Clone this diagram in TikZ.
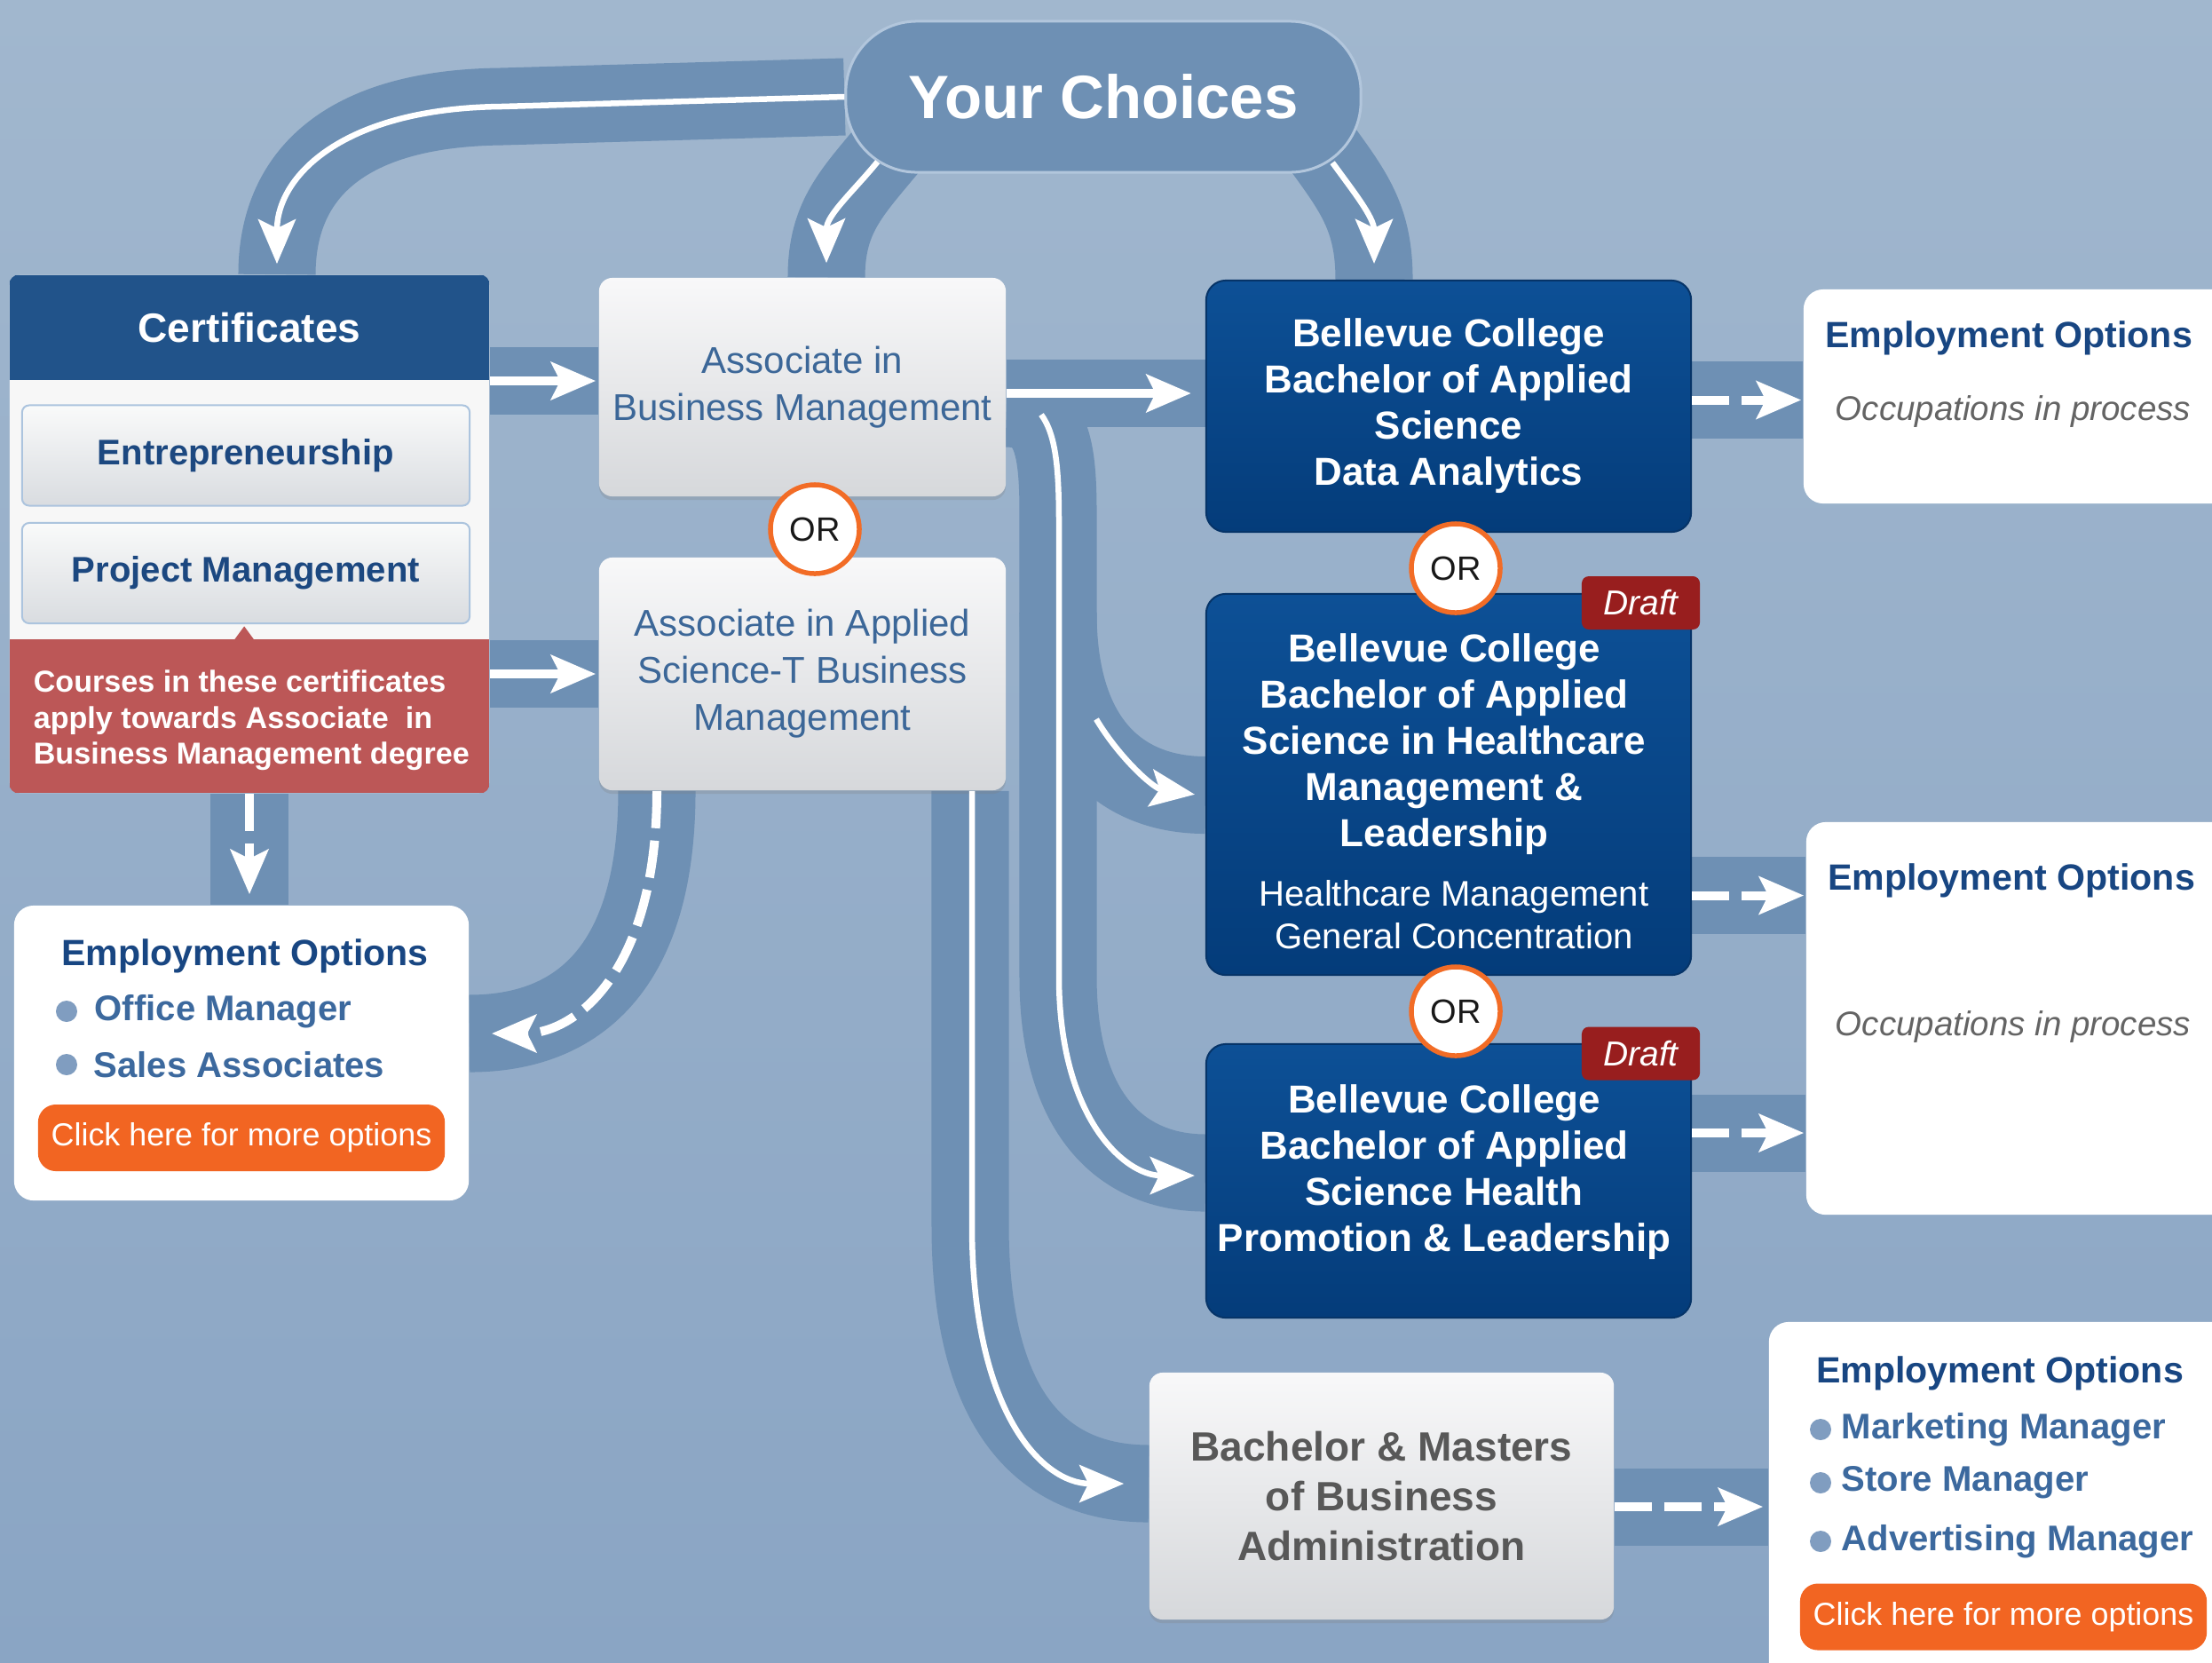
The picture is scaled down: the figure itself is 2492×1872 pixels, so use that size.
\documentclass[tikz,border=0pt]{standalone}
\usepackage{fontspec}
\setmainfont{Liberation Sans}
\usetikzlibrary{arrows.meta,calc,shadows}
\pgfdeclarelayer{back}
\pgfdeclarelayer{roads}
\pgfsetlayers{back,roads,main}
\definecolor{bgtop}{RGB}{161,183,206}
\definecolor{bgbot}{RGB}{138,165,196}
\definecolor{roadc}{RGB}{110,144,180}
\definecolor{pillborder}{RGB}{178,198,220}
\definecolor{headc}{RGB}{33,83,138}
\definecolor{redc}{RGB}{188,87,87}
\definecolor{panelc}{RGB}{247,247,247}
\definecolor{btnline}{RGB}{172,196,222}
\definecolor{btntop}{RGB}{249,250,250}
\definecolor{btnbot}{RGB}{217,220,224}
\definecolor{navytxt}{RGB}{28,72,128}
\definecolor{steel}{RGB}{60,103,152}
\definecolor{bctop}{RGB}{13,80,150}
\definecolor{bcbot}{RGB}{4,60,122}
\definecolor{bcline}{RGB}{6,52,104}
\definecolor{draftc}{RGB}{152,30,30}
\definecolor{orline}{RGB}{242,108,38}
\definecolor{ortxt}{RGB}{25,25,25}
\definecolor{empblue}{RGB}{24,70,130}
\definecolor{itemblue}{RGB}{60,105,158}
\definecolor{occgray}{RGB}{100,100,100}
\definecolor{orangec}{RGB}{242,101,34}
\definecolor{bmgray}{RGB}{88,88,88}
\definecolor{bullc}{RGB}{128,157,192}
\definecolor{greytop}{RGB}{248,248,249}
\definecolor{greybot}{RGB}{214,216,219}
\tikzset{
 road/.style={draw=roadc,line width=0.87cm,line cap=butt},
 roadn/.style={draw=roadc,line width=0.76cm,line cap=butt},
 whiteline/.style={draw=white,line width=0.065cm,-{Stealth[length=0.5cm,width=0.42cm,inset=0.1cm]}},
 whitethick/.style={draw=white,line width=0.1cm,-{Stealth[length=0.5cm,width=0.42cm,inset=0.1cm]}},
 whitedash/.style={whitethick,dash pattern=on 0.42cm off 0.14cm},
 pill/.style={fill=roadc,draw=pillborder,line width=0.03cm,rounded corners=0.8cm,minimum width=5.8cm,minimum height=1.7cm,inner sep=0pt,text=white,font=\bfseries\fontsize{19.6pt}{23pt}\selectfont},
 panel/.style={fill=panelc,minimum width=5.4cm,minimum height=5.83cm,rounded corners=0.12cm,inner sep=0pt},
 certhead/.style={fill=headc,minimum width=5.4cm,minimum height=1.18cm,inner sep=0pt,text=white,font=\bfseries\fontsize{13.1pt}{15pt}\selectfont},
 notebox/.style={fill=redc,minimum width=5.4cm,minimum height=1.73cm,inner sep=0pt},
 notetxt/.style={text=white,align=left,anchor=west,inner sep=0pt,font=\bfseries\fontsize{9.7pt}{11.5pt}\selectfont},
 btnbox/.style={top color=btntop,bottom color=btnbot,draw=btnline,line width=0.02cm,rounded corners=0.08cm,minimum width=5.04cm,minimum height=1.13cm,inner sep=0pt,text=navytxt,font=\bfseries\fontsize{11.4pt}{13pt}\selectfont},
 greybox/.style={rounded corners=0.15cm,top color=greytop,bottom color=greybot,inner sep=0pt,text=steel,align=center,font=\fontsize{11.95pt}{15.1pt}\selectfont,drop shadow={shadow xshift=0cm,shadow yshift=-0.04cm,opacity=0.25}},
 bcbox/.style={rounded corners=0.22cm,top color=bctop,bottom color=bcbot,draw=bcline,line width=0.02cm,minimum width=5.46cm,inner sep=0pt,text=white,align=center,font=\bfseries\fontsize{12.5pt}{14.8pt}\selectfont},
 bctext/.style={text=white,align=center,inner sep=0pt,font=\bfseries\fontsize{12.5pt}{14.8pt}\selectfont},
 bcsub/.style={text=white,align=center,inner sep=0pt,font=\fontsize{11.4pt}{13.7pt}\selectfont},
 orc/.style={circle,fill=white,draw=orline,line width=0.055cm,minimum size=1.0cm,inner sep=0pt,text=ortxt,font=\fontsize{10.8pt}{12pt}\selectfont},
 draft/.style={fill=draftc,rounded corners=0.08cm,minimum width=1.33cm,minimum height=0.6cm,inner sep=0pt,text=white,font=\itshape\fontsize{11.1pt}{13pt}\selectfont},
 empbox/.style={fill=white,rounded corners=0.22cm,inner sep=0pt},
 emptitle/.style={text=empblue,inner sep=0pt,font=\bfseries\fontsize{11.7pt}{14pt}\selectfont},
 occ/.style={text=occgray,inner sep=0pt,font=\itshape\fontsize{10.95pt}{13pt}\selectfont},
 itemtxt/.style={text=itemblue,inner sep=0pt,anchor=west,font=\bfseries\fontsize{11.4pt}{13pt}\selectfont},
 obtn/.style={fill=orangec,rounded corners=0.2cm,minimum width=4.58cm,minimum height=0.75cm,inner sep=0pt,text=white,font=\fontsize{10.2pt}{12pt}\selectfont},
 bmbox/.style={greybox,text=bmgray,font=\bfseries\fontsize{13.1pt}{15.9pt}\selectfont}
}
\begin{document}
\begin{tikzpicture}[x=0.01cm,y=-0.01cm]
\useasboundingbox (0,0) rectangle (2492,1872);
\begin{pgfonlayer}{back}
\shade[top color=bgtop,bottom color=bgbot] (0,0) rectangle (2492,1872);
\end{pgfonlayer}
\clip (0,0) rectangle (2492,1872);

% ---------- nodes ----------
\node[pill] (yc) at (1243,109) {Your Choices};

\node[panel] (cert) at (281,601.5) {};
\begin{scope}
\clip[rounded corners=0.12cm] (cert.north west) rectangle (cert.south east);
\node[certhead,anchor=north] (certh) at (cert.north) {Certificates};
\node[notebox,anchor=south] (note) at (cert.south) {};
\fill[redc] ($(note.north west)+(254,1)$) -- ++(11,-15) -- ++(11,15) -- cycle;
\end{scope}
\node[notetxt] (notet) at ($(note.west)+(27,5)$) {Courses in these certificates\\apply towards Associate~ in\\Business Management degree};
\node[btnbox] (ent) at (277,513) {Entrepreneurship};
\node[btnbox] (pm) at (277,645.5) {Project Management};

\node[greybox,minimum width=4.58cm,minimum height=2.46cm] (abm) at (904,436) {Associate in\\Business Management};
\node[greybox,minimum width=4.58cm,minimum height=2.62cm] (asbm) at (904,759) {Associate in Applied\\Science-T Business\\Management};
\node[orc] (or1) at (918,596) {OR};

\node[bcbox,minimum height=2.83cm] (da) at (1632,457.5) {Bellevue College\\Bachelor of Applied\\Science\\Data Analytics};
\node[bcbox,minimum height=4.29cm] (hc) at (1632,883.5) {};
\node[bctext] (hct) at (1627,838) {Bellevue College\\Bachelor of Applied\\Science in Healthcare\\Management \&\\Leadership};
\node[bcsub] (hcs) at (1638,1030) {Healthcare Management\\General Concentration};
\node[bcbox,minimum height=3.08cm] (hp) at (1632,1330) {};
\node[bctext] (hpt) at (1627,1320) {Bellevue College\\Bachelor of Applied\\Science Health\\Promotion \& Leadership};
\node[orc] (or2) at (1640,640) {OR};
\node[orc] (or3) at (1640,1139) {OR};
\node[draft] (dr1) at (1848.5,679) {Draft};
\node[draft] (dr2) at (1848.5,1186.5) {Draft};

\node[bmbox,minimum width=5.23cm,minimum height=2.78cm] (bm) at (1556.5,1685) {Bachelor \& Masters\\of Business\\Administration};

\node[empbox,minimum width=5.08cm,minimum height=2.41cm] (emp1) at (2286,446.5) {};
\node[emptitle] (emp1t) at (2263,381) {Employment Options};
\node[occ] (emp1o) at (2268,464) {Occupations in process};

\node[empbox,minimum width=5.05cm,minimum height=4.42cm] (emp2) at (2287.5,1147) {};
\node[emptitle] (emp2t) at (2266,992) {Employment Options};
\node[occ] (emp2o) at (2268,1157) {Occupations in process};

\node[empbox,minimum width=5.47cm,minimum height=4.31cm] (emp3) at (2266.5,1704.5) {};
\node[emptitle] (emp3t) at (2253,1547) {Employment Options};
\fill[bullc] (2051,1610) circle (12);
\fill[bullc] (2051,1670) circle (12);
\fill[bullc] (2051,1736) circle (12);
\node[itemtxt] (e3a) at (2074,1610) {Marketing Manager};
\node[itemtxt] (e3b) at (2074,1670) {Store Manager};
\node[itemtxt] (e3c) at (2074,1736) {Advertising Manager};
\node[obtn] (btn3) at (2257,1821) {Click here for more options};

\node[empbox,minimum width=5.12cm,minimum height=3.32cm] (empL) at (272,1186) {};
\node[emptitle] (empLt) at (276,1077) {Employment Options};
\fill[bullc] (75,1139) circle (12);
\fill[bullc] (75,1199) circle (12);
\node[itemtxt] (eLa) at (106,1139) {Office Manager};
\node[itemtxt] (eLb) at (105,1199) {Sales Associates};
\node[obtn] (btnL) at (272,1281.5) {Click here for more options};

% ---------- helper coordinates ----------
\coordinate (c4e) at ($(abm.west)+(0,-7)$);
\coordinate (c8s) at ($(abm.east)+(0,7)$);
\coordinate (c9s) at ($(abm.east)+(0,24)$);
\coordinate (c12s) at ($(da.east)+(0,-7)$);
\coordinate (c13s) at ($(hc.east)+(0,125)$);
\coordinate (c14s) at ($(hp.east)+(0,-54)$);
\coordinate (c15s) at ($(bm.east)+(0,12)$);
\coordinate (c9w) at (1173,467);
\coordinate (c10w) at (1235,810);

% ---------- roads ----------
\begin{pgfonlayer}{roads}
\draw[road] (yc.west) -- (565,120) .. controls (385,122) and ($(cert.north)+(31,-110)$) .. ($(cert.north)+(31,0)$);
\draw[road] ($(yc.south west)+(55,-35)$) .. controls +(-45,55) and +(0,-70) .. ($(abm.north)+(27,0)$);
\draw[road] ($(yc.south east)+(-50,-35)$) .. controls +(40,55) and +(0,-70) .. ($(da.north)+(-84,0)$);
\draw[roadn] (cert.east |- c4e) -- (c4e);
\draw[roadn] (cert.east |- asbm.west) -- (asbm.west);
\draw[road] (cert.south) -- (cert.south |- empL.north);
\draw[road] ($(asbm.south)+(-164,0)$) .. controls +(0,200) and +(122,0) .. ($(empL.east)+(0,-22)$);
\draw[roadn] (c8s) -- (c8s -| da.west);
\draw[road] (c9s) .. controls +(52,0) and +(0,-75) .. (1192,580) -- (1192,1100) .. controls +(0,160) and +(-90,0) .. ($(hp.west)+(0,-9)$);
\draw[road] (1192,690) .. controls +(0,150) and +(-90,0) .. ($(hc.west)+(0,12)$);
\draw[road] ($(asbm.south)+(189,0)$) -- (1093,1380) .. controls +(0,210) and +(-120,0) .. ($(bm.west)+(0,-14)$);
\draw[road] (c12s) -- (c12s -| emp1.west);
\draw[road] (c13s) -- (c13s -| emp2.west);
\draw[road] (c14s) -- (c14s -| emp2.west);
\draw[road] (c15s) -- (c15s -| emp3.west);
\end{pgfonlayer}

% ---------- white connectors ----------
\draw[whiteline,shorten >=0.12cm] (yc.west) -- (565,120) .. controls (385,122) and ($(cert.north)+(31,-110)$) .. ($(cert.north)+(31,0)$);
\draw[whiteline,shorten <=0.28cm,shorten >=0.16cm] ($(yc.south west)+(55,-35)$) .. controls +(-45,55) and +(0,-70) .. ($(abm.north)+(27,0)$);
\draw[whiteline,shorten <=0.28cm,shorten >=0.18cm] ($(yc.south east)+(-50,-35)$) .. controls +(40,55) and +(0,-70) .. ($(da.north)+(-84,0)$);
\draw[whitethick,shorten >=0.03cm] (cert.east |- c4e) -- (c4e);
\draw[whitethick,shorten >=0.03cm] (cert.east |- asbm.west) -- (asbm.west);
\draw[whitedash,shorten >=0.12cm] (cert.south) -- (cert.south |- empL.north);
\draw[whitedash,shorten >=0.25cm] ($(asbm.south)+(-164,0)$) .. controls +(0,200) and +(122,0) .. ($(empL.east)+(0,-22)$);
\draw[whitethick,shorten >=0.16cm] (c8s) -- (c8s -| da.west);
\draw[whiteline,shorten >=0.12cm] (c9w) .. controls (1190,490) and (1193,530) .. (1193,590) -- (1193,1100) .. controls +(0,160) and +(-90,0) .. ($(hp.west)+(0,-6)$);
\draw[whiteline,shorten >=0.12cm] (c10w) .. controls (1262,855) and (1300,888) .. ($(hc.west)+(0,13)$);
\draw[whiteline,shorten >=0.28cm] ($(asbm.south)+(191,0)$) -- (1095,1380) .. controls +(0,210) and +(-120,0) .. ($(bm.west)+(0,-14)$);
\draw[whitedash,shorten >=0.02cm] (c12s) -- (c12s -| emp1.west);
\draw[whitedash,shorten >=0.02cm] (c13s) -- (c13s -| emp2.west);
\draw[whitedash,shorten >=0.02cm] (c14s) -- (c14s -| emp2.west);
\draw[whitedash,shorten >=0.06cm] (c15s) -- (c15s -| emp3.west);
\end{tikzpicture}
\end{document}
